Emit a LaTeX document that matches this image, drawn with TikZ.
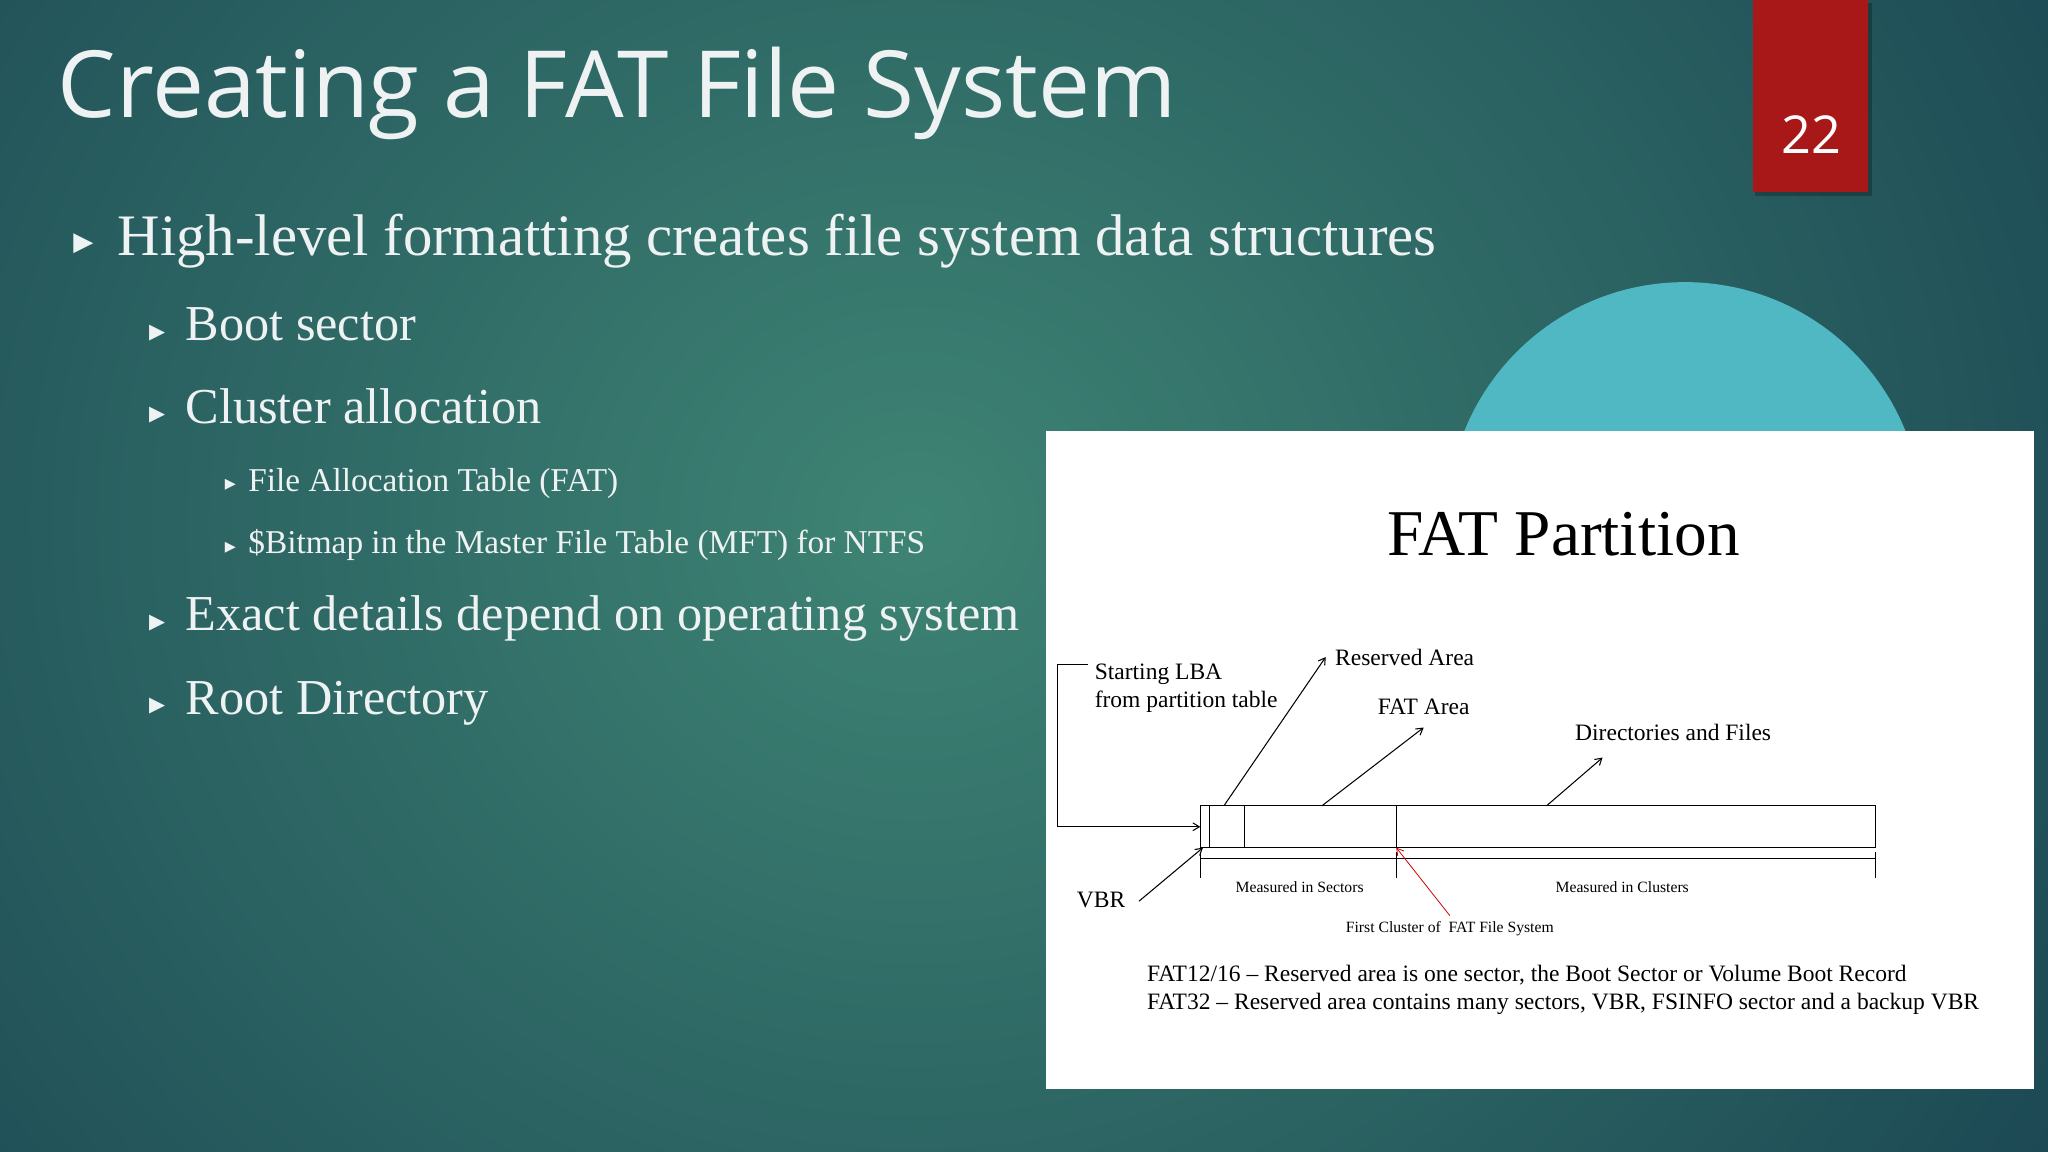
\documentclass[tikz,border=0pt]{standalone}
\usepackage{fontspec}
\setmainfont{Liberation Serif}
\newfontfamily\titlefont{Open Sans}
\newfontfamily\symfont{DejaVu Sans}
\usetikzlibrary{arrows.meta}
\definecolor{bgin}{RGB}{62,132,116}
\definecolor{bgout}{RGB}{22,62,78}
\definecolor{circ}{RGB}{80,184,194}
\definecolor{redbox}{RGB}{168,24,24}
\definecolor{txt}{RGB}{238,242,242}
\tikzset{
 lvl1/.style={anchor=base west,text=txt,font=\fontsize{45}{49}\selectfont,inner sep=0},
 lvl2/.style={anchor=base west,text=txt,font=\fontsize{38.5}{42}\selectfont,inner sep=0},
 lvl3/.style={anchor=base west,text=txt,font=\fontsize{25.5}{28}\selectfont,inner sep=0},
 bul/.style={anchor=base west,text=txt,inner sep=0},
 small/.style={font=\fontsize{12}{13}\selectfont,inner sep=0},
 lab/.style={font=\fontsize{18}{21}\selectfont,inner sep=0},
 arr/.style={-{Straight Barb[length=5pt,width=6pt]},line width=0.8pt},
}
\begin{document}
\begin{tikzpicture}[x=1pt,y=-1pt]
\useasboundingbox (0,0) rectangle (1568,882);
\shade[inner color=bgin,outer color=bgout] (-500,-700) rectangle (1900,1500);
\fill[circ] (1290,398) circle (182);
\fill[black,opacity=0.25] (1344,2) rectangle (1433,150);
\fill[redbox] (1342,0) rectangle (1430,147);
\node[text=white,font=\titlefont\fontsize{40}{44}\selectfont] (num) at (1387,103) {22};
\node[anchor=base west,text=txt,inner sep=0,font=\titlefont\fontsize{71}{76}\selectfont] (title) at (44,90) {Creating a FAT File System};
% bullets
\node[bul,font=\symfont\fontsize{20}{24}\selectfont] (b1) at (56,192) {▶};
\node[lvl1] (t1) at (90,196) {High-level formatting creates file system data structures};
\node[bul,font=\symfont\fontsize{16}{20}\selectfont] (b2) at (114,259) {▶};
\node[lvl2] (t2) at (142,261) {Boot sector};
\node[bul,font=\symfont\fontsize{16}{20}\selectfont] (b3) at (114,322) {▶};
\node[lvl2] (t3) at (142,324) {Cluster allocation};
\node[bul,font=\symfont\fontsize{11}{14}\selectfont] (b4) at (172,374) {▶};
\node[lvl3] (t4) at (190,376) {File Allocation Table (FAT)};
\node[bul,font=\symfont\fontsize{11}{14}\selectfont] (b5) at (172,422) {▶};
\node[lvl3] (t5) at (190,424) {\$Bitmap in the Master File Table (MFT) for NTFS};
\node[bul,font=\symfont\fontsize{16}{20}\selectfont] (b6) at (114,481) {▶};
\node[lvl2] (t6) at (142,483) {Exact details depend on operating system};
\node[bul,font=\symfont\fontsize{16}{20}\selectfont] (b7) at (114,545) {▶};
\node[lvl2] (t7) at (142,547) {Root Directory};
% panel
\fill[white] (801,330) rectangle (1557,834);
\node[font=\fontsize{50}{54}\selectfont,inner sep=0,anchor=base] (fp) at (1197,425) {FAT Partition};
% bar
\draw[line width=0.9pt] (919,617) rectangle (1436,649);
\draw[line width=0.8pt] (926,617) -- (926,649) (953,617) -- (953,649) (1069,617) -- (1069,649);
\coordinate (barl) at (919,633);
% dimension line
\draw[line width=0.8pt] (919,657) -- (1436,657);
\draw[line width=0.8pt] (919,652) -- (919,672) (1069,652) -- (1069,672) (1436,652) -- (1436,672);
\node[small] (ms) at (995,679) {Measured in Sectors};
\node[small] (mc) at (1242,679) {Measured in Clusters};
\node[small] (fc) at (1110,711) {First Cluster of \ FAT File System};
\coordinate (fctop) at (1110,701);
\coordinate (fcpt) at (1069,649);
\draw[arr,red!80!black,line width=0.6pt] (fctop) -- (fcpt);
% labels
\node[lab,anchor=west,align=left] (lba) at (838,527) {Starting LBA\\from partition table};
\coordinate (lb1) at (833,509);
\coordinate (lb2) at (810,509);
\coordinate (lb3) at (810,633);
\draw[arr] (lb1) -- (lb2) -- (lb3) -- (barl);
\node[lab] (vbr) at (843,689) {VBR};
\coordinate (vbrs) at (872,690);
\coordinate (vbre) at (921,649);
\draw[arr] (vbrs) -- (vbre);
\node[lab,anchor=west] (ra) at (1022,503) {Reserved Area};
\coordinate (ra0) at (937,617); \coordinate (ra1) at (1015,503);
\draw[arr] (ra0) -- (ra1);
\node[lab] (fa) at (1090,541) {FAT Area};
\coordinate (fa0) at (1012,617); \coordinate (fa1) at (1090,557);
\draw[arr] (fa0) -- (fa1);
\node[lab] (df) at (1281,561) {Directories and Files};
\coordinate (df0) at (1184,617); \coordinate (df1) at (1227,580);
\draw[arr] (df0) -- (df1);
\node[lab,anchor=west,align=left] (note) at (878,758) {FAT12/16 -- Reserved area is one sector, the Boot Sector or Volume Boot Record\\FAT32 -- Reserved area contains many sectors, VBR, FSINFO sector and a backup VBR};
\end{tikzpicture}
\end{document}
